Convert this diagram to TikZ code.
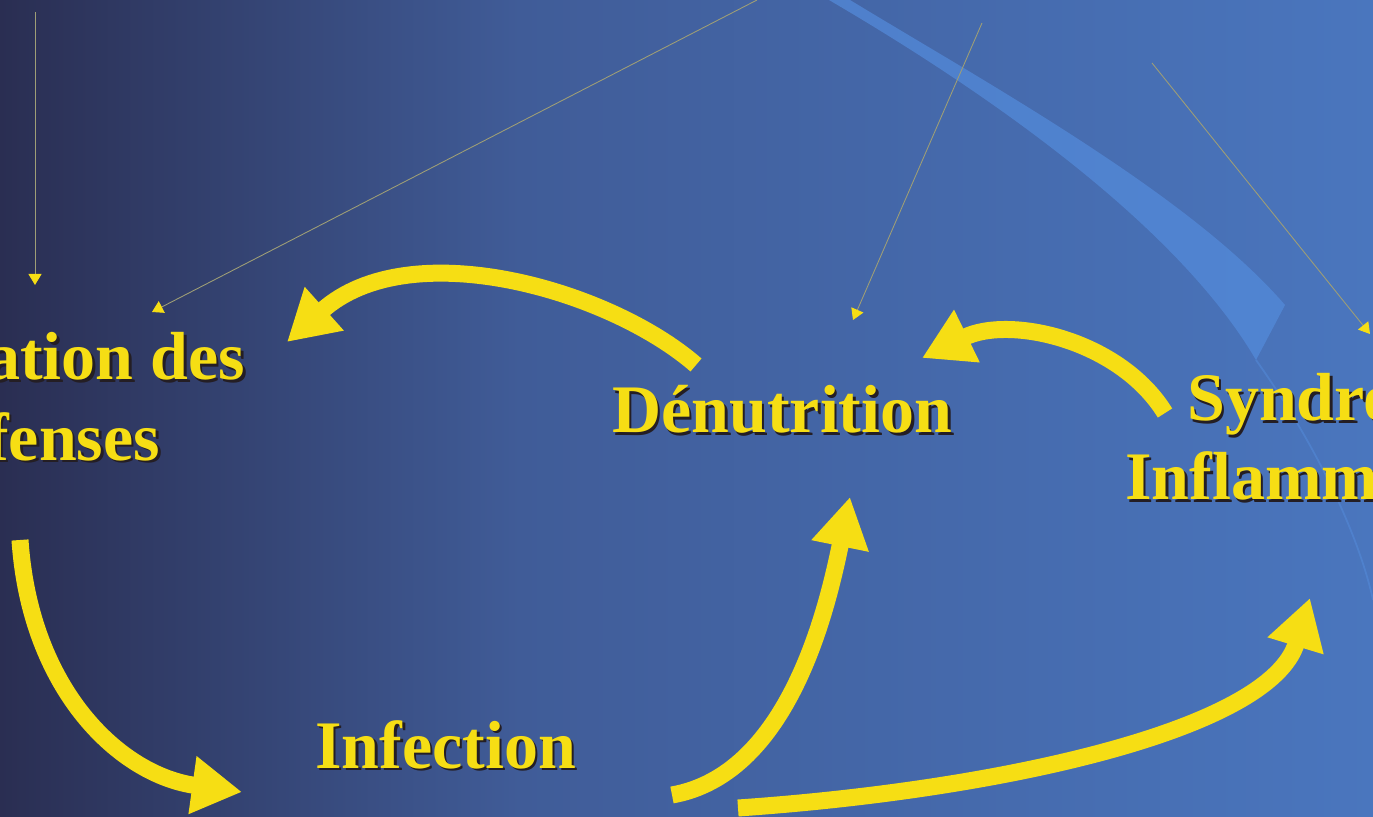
\documentclass[tikz,border=0pt]{standalone}
\usepackage{fontspec}
\setmainfont{Liberation Serif}
\usetikzlibrary{arrows.meta,calc}
\definecolor{bgleft}{RGB}{42,46,82}
\definecolor{bgmid}{RGB}{64,92,152}
\definecolor{bgright}{RGB}{74,118,190}
\definecolor{streak}{RGB}{84,140,220}
\definecolor{cyclegold}{RGB}{246,222,20}
\definecolor{shadowc}{RGB}{36,30,36}
\definecolor{hairc}{RGB}{158,158,118}

\begin{document}
\begin{tikzpicture}[x=0.02cm, y=-0.02cm,
		word/.style={anchor=base west, inner sep=0pt, text=cyclegold, font=\fontsize{38.7}{40}\selectfont\bfseries},
		wordshadow/.style={word, text=shadowc},
		loop/.style={draw=cyclegold, line width=0.34cm, -{Triangle[length=1cm, width=1.1cm]}},
		hair/.style={draw=hairc, line width=0.5pt, -{Triangle[length=0.22cm, width=0.26cm, color=cyclegold]}}]
		\clip (0,0) rectangle (1373,817);
		% ---- background ----
		\shade[left color=bgleft, right color=bgmid] (0,0) rectangle (520,817);
		\shade[left color=bgmid, right color=bgright] (520,0) rectangle (1373,817);
		\fill[streak, opacity=0.7] (829,0) .. controls (1000,100) and (1180,230) .. (1256,360) -- (1285,305) .. controls (1190,195) and (990,85) .. (850,0) -- cycle;
		\draw[streak, opacity=0.5, line width=1pt] (1256,360) .. controls (1320,450) and (1360,540) .. (1373,600);
		% ---- thin pointers ----
		\coordinate (h1a) at (35,12);    \coordinate (h1b) at (35,285);
		\coordinate (h2a) at (757,0);    \coordinate (h2b) at (152,312);
		\coordinate (h3a) at (982,23);   \coordinate (h3b) at (853,320);
		\coordinate (h4a) at (1152,63);  \coordinate (h4b) at (1370,334);
		\foreach \i in {1,...,4} \draw[hair] (h\i a) -- (h\i b);
		% ---- words ----
		\foreach \nm/\px/\py/\txt in {alt1/-14/380/ation des, alt2/-14/460/fenses, den/612/433/Dénutrition,
			syn1/1187/421/Syndro, syn2/1125/500/Inflamm, inf/315/768/Infection} {
			\node[wordshadow] at (\px+2.5,\py+2.5) {\txt};
			\node[word] (\nm) at (\px,\py) {\txt};
		}
		% ---- cycle arrows ----
		\draw[loop] ($(den.base west)+(84,-68)$) .. controls (610,290) and (410,232) .. ($(alt1.base west)+(301,-38)$);
		\draw[loop] ($(syn1.base west)+(-22,-8)$) .. controls (1120,340) and (1010,315) .. ($(den.base west)+(310,-75)$);
		\draw[loop] ($(alt2.base west)+(34,80)$) .. controls (30,690) and (120,775) .. ($(inf.base west)+(-73,24)$);
		\draw[loop] ($(inf.base west)+(357,27)$) .. controls (785,775) and (825,620) .. ($(den.base west)+(238,64)$);
		\draw[loop] ($(inf.base west)+(423,40)$) .. controls (1000,790) and (1270,730) .. ($(syn2.base west)+(185,98)$);
	\end{tikzpicture}
\end{document}
